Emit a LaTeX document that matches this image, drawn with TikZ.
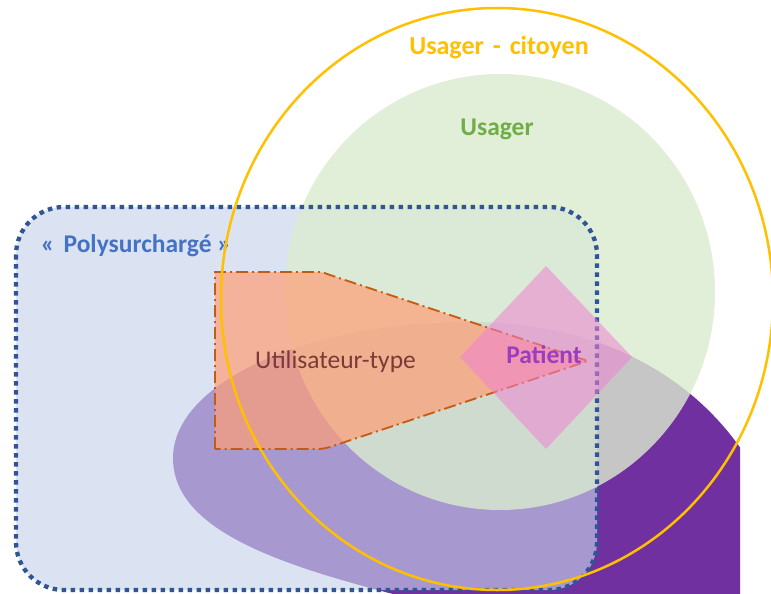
\documentclass[tikz,border=0pt]{standalone}
\usepackage{fontspec}
\setmainfont{Carlito}
\definecolor{cpurple}{HTML}{7030A0}
\definecolor{crect}{RGB}{200,212,236}
\definecolor{cgreen}{RGB}{219,236,207}
\definecolor{cborder}{HTML}{2F5597}
\definecolor{corange}{RGB}{255,158,118}
\definecolor{coline}{HTML}{C55A11}
\definecolor{cpink}{RGB}{240,130,210}
\definecolor{cyellow}{HTML}{FFC000}
\definecolor{cusager}{HTML}{70AD47}
\definecolor{cpoly}{HTML}{4472C4}
\definecolor{cutil}{RGB}{122,58,56}
\definecolor{cpatient}{RGB}{155,61,191}
\tikzset{
  bigtext/.style={font=\fontsize{25.5}{30}\selectfont, anchor=base, inner sep=0pt},
  boldtext/.style={bigtext, font=\fontsize{25.5}{30}\selectfont\bfseries},
  polyframe/.style={rounded corners=48pt},
}
\begin{document}
\begin{tikzpicture}[x=1pt,y=-1pt]
\useasboundingbox (0,0) rectangle (771,594);
\fill[white] (0,0) rectangle (771,594);
% purple blob
\begin{scope}
\clip (0,0) rectangle (740,594);
\fill[cpurple] (173,458) .. controls (173,383) and (306,322) .. (470,322)
  .. controls (610,322) and (710,385) .. (760,480) -- (800,650)
  .. controls (780,640) and (500,622) .. (393,594)
  .. controls (273,563) and (173,528) .. (173,458) -- cycle;
\end{scope}
% polysurcharge fill
\fill[crect, fill opacity=0.64, polyframe] (16,207) rectangle (597,590);
% usager ellipse
\fill[cgreen, fill opacity=0.8] (500,292) ellipse [x radius=215pt, y radius=218pt];
% polysurcharge border
\draw[cborder, line width=4.3pt, dash pattern=on 4.5pt off 4.5pt, polyframe] (16,207) rectangle (597,590);
% utilisateur-type
\filldraw[fill=corange, fill opacity=0.7, draw=coline, line width=1.8pt, dash pattern=on 12pt off 4pt on 2pt off 4pt]
  (215,449) -- (215,272) -- (314,272) .. controls (322,272) and (322,272) .. (330,275) -- (588,361) -- (330,447) .. controls (322,449) and (322,449) .. (314,449) -- cycle;
% patient
\fill[cpink, fill opacity=0.55] (546,266) -- (632,357) -- (546,449) -- (460,357) -- cycle;
% texts
\node[boldtext, text=cyellow, font=\fontsize{26}{30}\selectfont\bfseries] (tcit) at (499,55) {Usager\hspace{9pt}-\hspace{9pt}citoyen};
\node[boldtext, text=cusager] (tusa) at (497,135) {Usager};
\node[boldtext, text=cpoly] (tpol) at (136,252) {«\hspace{0.35em}Polysurchargé »};
\node[bigtext, text=cutil] (tuti) at (335.5,368) {Utilisateur-type};
\node[boldtext, text=cpatient] (tpat) at (544,363) {Patient};
% usager-citoyen ellipse
\draw[cyellow, line width=2.5pt] (497,299) ellipse [x radius=276pt, y radius=291pt];
\end{tikzpicture}
\end{document}
